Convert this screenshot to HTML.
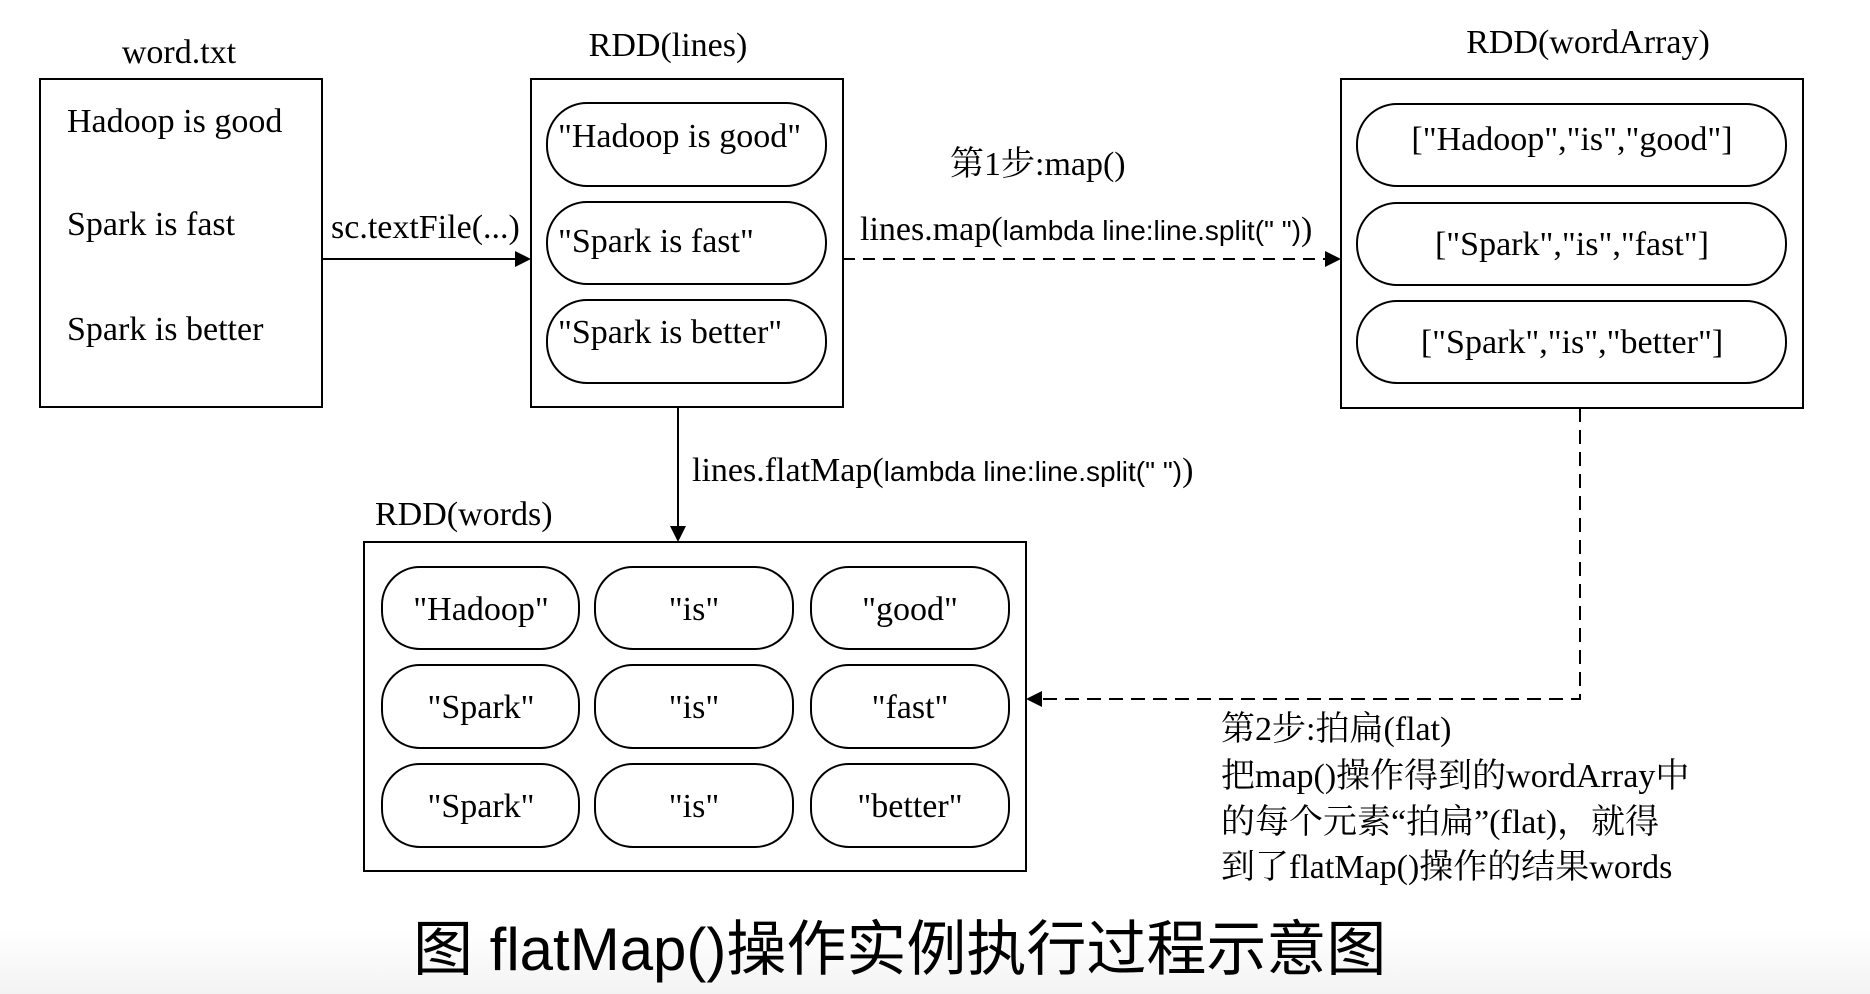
<!DOCTYPE html>
<html><head><meta charset="utf-8"><style>
html,body{margin:0;padding:0;background:#fff;}
svg{display:block;}
.t{font-family:"Liberation Serif","Noto Serif CJK SC",serif;font-size:34px;fill:#000;}
.s{font-family:"Liberation Sans","Noto Sans CJK SC",sans-serif;font-size:28px;fill:#000;}
</style></head><body>
<svg width="1870" height="994" viewBox="0 0 1870 994" xmlns="http://www.w3.org/2000/svg">
<defs>
<linearGradient id="g" x1="0" y1="0" x2="0" y2="1">
<stop offset="0" stop-color="#fff"/><stop offset="1" stop-color="#f3f3f3"/>
</linearGradient>
</defs>
<rect x="0" y="930" width="1870" height="64" fill="url(#g)"/>
<g fill="none" stroke="#000" stroke-width="2">
<rect x="40" y="79" width="282" height="328"/>
<rect x="531" y="79" width="312" height="328"/>
<rect x="1341" y="79" width="462" height="329"/>
<rect x="364" y="542" width="662" height="329"/>
<rect x="547" y="103" width="279" height="83" rx="40"/>
<rect x="547" y="202" width="279" height="82" rx="40"/>
<rect x="547" y="300" width="279" height="83" rx="40"/>
<rect x="1357" y="104" width="429" height="82" rx="40"/>
<rect x="1357" y="203" width="429" height="82" rx="40"/>
<rect x="1357" y="301" width="429" height="82" rx="40"/>
<rect x="382" y="567" width="197" height="82" rx="38"/>
<rect x="595" y="567" width="198" height="82" rx="38"/>
<rect x="811" y="567" width="198" height="82" rx="38"/>
<rect x="382" y="665" width="197" height="83" rx="38"/>
<rect x="595" y="665" width="198" height="83" rx="38"/>
<rect x="811" y="665" width="198" height="83" rx="38"/>
<rect x="382" y="764" width="197" height="83" rx="38"/>
<rect x="595" y="764" width="198" height="83" rx="38"/>
<rect x="811" y="764" width="198" height="83" rx="38"/>
<line x1="322" y1="259" x2="516" y2="259"/>
<line x1="843" y1="259" x2="1326" y2="259" stroke-dasharray="12,8"/>
<line x1="678" y1="407" x2="678" y2="527"/>
<polyline points="1580,408 1580,699 1041,699" stroke-dasharray="14,8"/>
</g>
<g fill="#000">
<polygon points="531,259 515,251 515,267"/>
<polygon points="1341,259 1325,251 1325,267"/>
<polygon points="678,542 670,526 686,526"/>
<polygon points="1026,699 1042,691 1042,707"/>
</g>
<text class="t" x="179" y="63" text-anchor="middle">word.txt</text>
<text class="t" x="668" y="56" text-anchor="middle">RDD(lines)</text>
<text class="t" x="1588" y="53" text-anchor="middle">RDD(wordArray)</text>
<text class="t" x="375" y="525">RDD(words)</text>
<text class="t" x="67" y="132">Hadoop is good</text>
<text class="t" x="67" y="235">Spark is fast</text>
<text class="t" x="67" y="340">Spark is better</text>
<text class="t" x="558" y="147">"Hadoop is good"</text>
<text class="t" x="558" y="252">"Spark is fast"</text>
<text class="t" x="558" y="343">"Spark is better"</text>
<text class="t" x="1572" y="150" text-anchor="middle">["Hadoop","is","good"]</text>
<text class="t" x="1572" y="255" text-anchor="middle">["Spark","is","fast"]</text>
<text class="t" x="1572" y="353" text-anchor="middle">["Spark","is","better"]</text>
<text class="t" x="331" y="238">sc.textFile(...)</text>
<text class="t" x="950" y="175">第1步:map()</text>
<text x="860" y="240"><tspan class="t">lines.map(</tspan><tspan class="s">lambda line:line.split(" ")</tspan><tspan class="t">)</tspan></text>
<text x="692" y="481"><tspan class="t">lines.flatMap(</tspan><tspan class="s">lambda line:line.split(" ")</tspan><tspan class="t">)</tspan></text>
<g class="t" text-anchor="middle">
<text x="481" y="620">"Hadoop"</text><text x="694" y="620">"is"</text><text x="910" y="620">"good"</text>
<text x="481" y="718">"Spark"</text><text x="694" y="718">"is"</text><text x="910" y="718">"fast"</text>
<text x="481" y="817">"Spark"</text><text x="694" y="817">"is"</text><text x="910" y="817">"better"</text>
</g>
<text class="t" x="1221" y="740">第2步:拍扁(flat)</text>
<text class="t" x="1221" y="787">把map()操作得到的wordArray中</text>
<text class="t" x="1221" y="833">的每个元素“拍扁”(flat)，就得</text>
<text class="t" x="1221" y="878">到了flatMap()操作的结果words</text>
<text x="413" y="970" style="font-family:'Liberation Sans','Noto Sans CJK SC',sans-serif;font-size:60px;fill:#000">图 flatMap()操作实例执行过程示意图</text>
</svg>
</body></html>
